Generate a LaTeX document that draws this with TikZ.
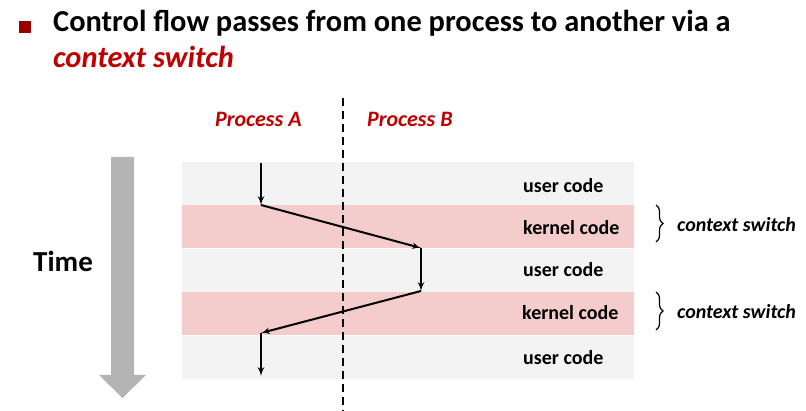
\documentclass[tikz,border=0pt]{standalone}
\usepackage{fontspec}
\setmainfont{Carlito}
\usetikzlibrary{arrows, positioning, decorations.pathreplacing}
\definecolor{slidered}{RGB}{192,0,0}
\definecolor{bulletred}{RGB}{153,0,0}
\definecolor{userfill}{RGB}{243,243,243}
\definecolor{kernelfill}{RGB}{244,204,204}
\definecolor{timegray}{RGB}{180,180,180}
\tikzstyle{userband} = [rectangle, minimum width=452pt, minimum height=43pt, inner sep=0pt, fill=userfill]
\tikzstyle{kernelband} = [userband, fill=kernelfill]
\tikzstyle{bandtext} = [anchor=base west, inner sep=0pt, font=\fontsize{20}{24}\selectfont\bfseries]
\tikzstyle{proc} = [anchor=base west, inner sep=0pt, text=slidered, font=\fontsize{22}{26}\selectfont\bfseries\itshape]
\tikzstyle{switchtext} = [anchor=base west, inner sep=0pt, font=\fontsize{20}{24}\selectfont\bfseries\itshape]
\tikzstyle{flow} = [draw, -latex', line width=2pt]
\tikzstyle{brace} = [draw, decorate, decoration={brace, amplitude=7pt}, line width=1.2pt]

\begin{document}
\begin{tikzpicture}[x=1pt, y=-1pt]
\useasboundingbox (0,0) rectangle (806,411);

% Title
\node (bullet) [rectangle, fill=bulletred, minimum size=12pt, inner sep=0pt] at (24.5,27) {};
\node (title) [anchor=base west, inner sep=0pt, font=\fontsize{30.4}{35}\selectfont\bfseries] at (53,32) {Control flow passes from one process to another via a};
\node (title2) [anchor=base west, inner sep=0pt, text=slidered, font=\fontsize{30.4}{35}\selectfont\bfseries\itshape] at (53,68) {context switch};

% Time arrow
\fill [timegray] (111,157) -- (134,157) -- (134,375) -- (146,375) -- (122.5,398) -- (99,375) -- (111,375) -- cycle;
\node (time) [anchor=base west, inner sep=0pt, font=\fontsize{29}{34}\selectfont\bfseries] at (33,272) {Time};

% Bands
\node (user1) [userband] at (408,183.5) {};
\node (kernel1) [kernelband, below=0pt of user1] {};
\node (user2) [userband, below=0pt of kernel1] {};
\node (kernel2) [kernelband, below=0pt of user2] {};
\node (user3) [userband, below=0pt of kernel2] {};

\node (userlbl1) [bandtext] at (523,193) {user code};
\node (kernellbl1) [bandtext] at (523,235) {kernel code};
\node (userlbl2) [bandtext] at (523,277) {user code};
\node (kernellbl2) [bandtext] at (522,320) {kernel code};
\node (userlbl3) [bandtext] at (523,365) {user code};

% Processes
\node (procA) [proc] at (215,127) {Process A};
\node (procB) [proc] at (367,127) {Process B};
\coordinate (divtop) at (343,98);
\coordinate (divbot) at (343,411);
\draw [line width=2pt, dash pattern=on 8pt off 5pt] (divtop) -- (divbot);

% Control flow
\coordinate (a0) at (261,163);
\coordinate (a1) at (261,205);
\coordinate (b0) at (421,248);
\coordinate (b1) at (421,291);
\coordinate (a2) at (261,333);
\coordinate (a3) at (261,376);
\draw [flow] (a0) -- (a1);
\draw [flow] (a1) -- (b0);
\draw [flow] (b0) -- (b1);
\draw [flow] (b1) -- (a2);
\draw [flow] (a2) -- (a3);

% Context switches
\coordinate (s1top) at (656,205);
\coordinate (s1bot) at (656,242);
\coordinate (s2top) at (656,292);
\coordinate (s2bot) at (656,330);
\draw [brace] (s1top) -- (s1bot);
\draw [brace] (s2top) -- (s2bot);
\node (switch1) [switchtext] at (677,232) {context switch};
\node (switch2) [switchtext] at (677,319) {context switch};

\end{tikzpicture}
\end{document}
